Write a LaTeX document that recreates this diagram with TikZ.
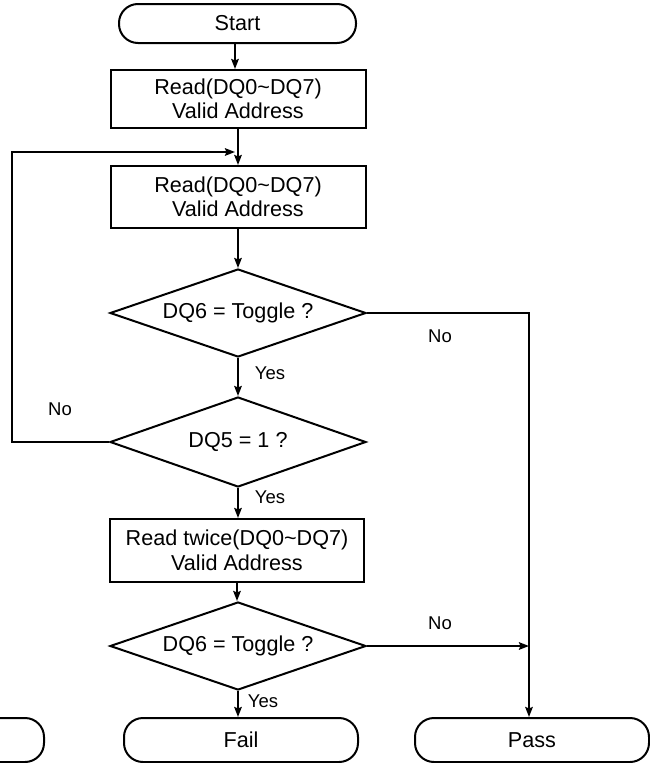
\documentclass[tikz,border=0pt]{standalone}
\usepackage{fontspec}
\setmainfont{Liberation Sans}
\usetikzlibrary{shapes.geometric,arrows.meta}
\begin{document}
\begin{tikzpicture}[x=1pt,y=-1pt, line width=2pt,
  term/.style={draw, rectangle, rounded corners=19pt, minimum width=234pt, minimum height=44pt, inner sep=0pt, font=\fontsize{21.6}{24}\selectfont},
  proc/.style={draw, rectangle, minimum width=255pt, inner sep=0pt, align=center, font=\fontsize{21.6}{24.5}\selectfont},
  dec/.style={draw, diamond, aspect=2.9, minimum width=256pt, minimum height=88pt, inner sep=0pt, font=\fontsize{21.6}{24}\selectfont},
  lbl/.style={font=\fontsize{18.5}{20}\selectfont, inner sep=0pt},
  arr/.style={-{Stealth[length=10pt,width=7.5pt,inset=1.5pt]}}]
\clip (0,0) rectangle (650,763);
\node[term, minimum width=237pt, minimum height=39pt] (start) at (237.5,23.5) {Start};
\node[proc, minimum height=58pt] (box1) at (238,99) {Read(DQ0\textasciitilde DQ7)\\Valid Address};
\node[proc, minimum height=62pt] (box2) at (238,197) {Read(DQ0\textasciitilde DQ7)\\Valid Address};
\node[dec] (d1) at (238,313) {DQ6 = Toggle ?};
\node[dec, minimum height=90pt] (d2) at (238,442) {DQ5 = 1 ?};
\node[proc, minimum width=254pt, minimum height=63pt] (box3) at (237,550.5) {Read twice(DQ0\textasciitilde DQ7)\\Valid Address};
\node[dec] (d3) at (238,646) {DQ6 = Toggle ?};
\node[term] (fail) at (241,740) {Fail};
\node[term] (pass) at (532,740) {Pass};
\node[term] (other) at (-73,740) {};
\coordinate (lp) at (12,152);
\coordinate (lj) at (238,152);
\coordinate (lt) at (235,152);
\coordinate (rc) at (529,313);
\draw[arr] (235,0 |- start.south) coordinate (s0) -- (s0 |- box1.north);
\draw (box1.south) -- (lj);
\draw[arr] (lj) -- (lj |- box2.north);
\draw[arr] (box2.south) -- (box2.south |- d1.north);
\draw[arr] (d1.south) -- (d1.south |- d2.north);
\draw[arr] (d2.west) -| (lp) -- (lt);
\draw[arr] (d2.south) -- (d2.south |- box3.north);
\draw[arr] (box3.south) -- (box3.south |- d3.north);
\draw[arr] (d3.south) -- (d3.south |- fail.north);
\draw[arr] (d1.east) -- (rc) -- (rc |- pass.north);
\draw[arr] (d3.east) -- (rc |- d3.east);
\node[lbl] (no1) at (440,336) {No};
\node[lbl] (yes1) at (270,373) {Yes};
\node[lbl] (no2) at (60,409) {No};
\node[lbl] (yes2) at (270,497) {Yes};
\node[lbl] (no3) at (440,623) {No};
\node[lbl] (yes3) at (263,701) {Yes};
\end{tikzpicture}
\end{document}
